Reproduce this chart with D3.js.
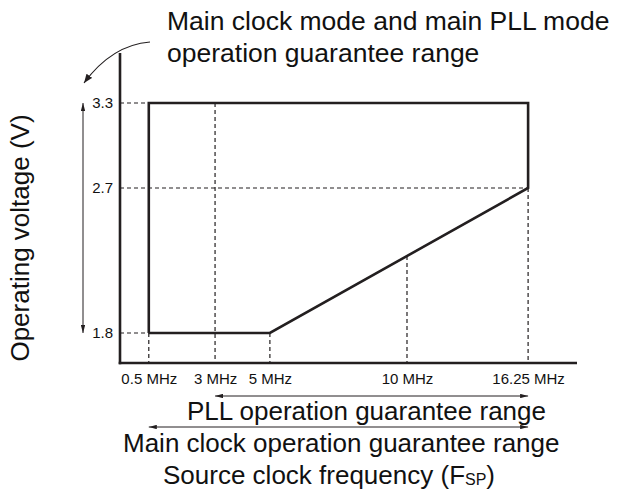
<!DOCTYPE html>
<html>
<head>
<meta charset="utf-8">
<script src="https://cdn.jsdelivr.net/npm/d3@7/dist/d3.min.js"></script>
<style>
  html, body { margin: 0; padding: 0; background: #fff; }
  text { font-family: "Liberation Sans", Arial, sans-serif; fill: #111; }
</style>
</head>
<body>
<svg id="chart" width="622" height="503"></svg>
<script>
// ---- data ----
const freqTicks = [0.5, 3, 5, 10, 16.25];
const freqLabels = ["0.5 MHz", "3 MHz", "5 MHz", "10 MHz", "16.25 MHz"];
const voltTicks = [1.8, 2.7, 3.3];
const voltLabels = ["1.8", "2.7", "3.3"];
// boundary of the operation guarantee region
const boundaryFreq = [0.5, 0.5, 16.25, 16.25, 5, 0.5];
const boundaryVolt = [1.8, 3.3, 3.3, 2.7, 1.8, 1.8];
// dashed guides
const hGuideVolt = [3.3, 2.7, 1.8];
const hGuideToFreq = [0.5, 16.25, 0.5];
const vGuideFreq = [0.5, 3, 5, 10, 16.25];
const vGuideFromVolt = [1.8, 3.3, 1.8, null, 2.7]; // null = on the slope
const pllRange = [3, 16.25];
const mainRange = [0.5, 16.25];
const titleLines = ["Main clock mode and main PLL mode", "operation guarantee range"];
const yTitle = "Operating voltage (V)";

// ---- layout ----
const svg = d3.select("#chart");
const ink = "#231f20";
const plot = { left: 120, right: 577, top: 53, bottom: 363 };
const W = plot.right - plot.left;
// non-uniform (piecewise) frequency and voltage scales, as in the original figure
const x = d3.scaleLinear()
  .domain(freqTicks)
  .range([0.063, 0.208, 0.328, 0.628, 0.893].map(f => plot.left + f * W));
const y = d3.scaleLinear()
  .domain(voltTicks)
  .range([333, 188, 103]);

// markers
const defs = svg.append("defs");
function marker(id, len, half) {
  defs.append("marker")
    .attr("id", id)
    .attr("markerUnits", "userSpaceOnUse")
    .attr("viewBox", `0 ${-half} ${len} ${2 * half}`)
    .attr("refX", len).attr("refY", 0)
    .attr("markerWidth", len).attr("markerHeight", 2 * half)
    .attr("orient", "auto-start-reverse")
    .append("path")
    .attr("d", `M0,${-half}L${len},0L0,${half}Z`)
    .attr("fill", ink);
}
marker("arr", 8, 2.2);
marker("arrBig", 9, 3.5);

// dashed guides
const dash = "4,3";
hGuideVolt.forEach((v, i) => {
  svg.append("line")
    .attr("x1", plot.left).attr("x2", x(hGuideToFreq[i]))
    .attr("y1", y(v)).attr("y2", y(v))
    .attr("stroke", ink).attr("stroke-width", 1.2).attr("stroke-dasharray", dash);
});
// slope segment in screen space (5 MHz,1.8V) -> (16.25 MHz,2.7V)
function slopeY(f) {
  const x0 = x(5), x1 = x(16.25), y0 = y(1.8), y1 = y(2.7);
  return y0 + (x(f) - x0) / (x1 - x0) * (y1 - y0);
}
vGuideFreq.forEach((f, i) => {
  const from = vGuideFromVolt[i] === null ? slopeY(f) : y(vGuideFromVolt[i]);
  svg.append("line")
    .attr("x1", x(f)).attr("x2", x(f))
    .attr("y1", from).attr("y2", plot.bottom)
    .attr("stroke", ink).attr("stroke-width", 1.2).attr("stroke-dasharray", dash);
});

// boundary
const pts = boundaryFreq.map((f, i) => [x(f), y(boundaryVolt[i])]);
svg.append("path")
  .attr("d", d3.line()(pts))
  .attr("fill", "none").attr("stroke", ink).attr("stroke-width", 2.6)
  .attr("stroke-linejoin", "miter");

// axes lines
svg.append("line").attr("x1", plot.left).attr("x2", plot.left)
  .attr("y1", plot.top).attr("y2", plot.bottom + 1.3)
  .attr("stroke", ink).attr("stroke-width", 2.6);
svg.append("line").attr("x1", plot.left - 1.3).attr("x2", plot.right)
  .attr("y1", plot.bottom).attr("y2", plot.bottom)
  .attr("stroke", ink).attr("stroke-width", 2.6);

// tick labels via d3 axes
const yAxis = svg.append("g").attr("transform", `translate(${plot.left},0)`)
  .call(d3.axisLeft(y).tickValues(voltTicks).tickSize(0).tickPadding(7)
    .tickFormat((d, i) => voltLabels[i]));
yAxis.select(".domain").remove();
yAxis.selectAll("text").style("font-size", "15px").style("font-family", "Liberation Sans, Arial, sans-serif").attr("fill", "#111");

const xAxis = svg.append("g").attr("transform", `translate(0,${plot.bottom})`)
  .call(d3.axisBottom(x).tickValues(freqTicks).tickSize(0).tickPadding(10)
    .tickFormat((d, i) => freqLabels[i]));
xAxis.select(".domain").remove();
xAxis.selectAll("text").style("font-size", "15px").style("font-family", "Liberation Sans, Arial, sans-serif").attr("fill", "#111");

// voltage range double arrow
svg.append("line")
  .attr("x1", 83).attr("x2", 83)
  .attr("y1", y(3.3)).attr("y2", y(1.8))
  .attr("stroke", ink).attr("stroke-width", 1)
  .attr("marker-start", "url(#arr)").attr("marker-end", "url(#arr)");

// curved arrow from title
svg.append("path")
  .attr("d", "M150,42 Q112,45 84,83")
  .attr("fill", "none").attr("stroke", ink).attr("stroke-width", 1.1)
  .attr("marker-end", "url(#arrBig)");

// range arrows
const rangeY = [396, 427];
[pllRange, mainRange].forEach((r, i) => {
  svg.append("line")
    .attr("x1", x(r[0])).attr("x2", x(r[1]))
    .attr("y1", rangeY[i]).attr("y2", rangeY[i])
    .attr("stroke", ink).attr("stroke-width", 1)
    .attr("marker-start", "url(#arr)").attr("marker-end", "url(#arr)");
});

// title
svg.append("text").attr("x", 167).attr("y", 30).style("font-size", "26.5px").text(titleLines[0]);
svg.append("text").attr("x", 167).attr("y", 62).style("font-size", "26.5px").text(titleLines[1]);

// bottom labels
svg.append("text").attr("x", 187).attr("y", 420).style("font-size", "26px").text("PLL operation guarantee range");
svg.append("text").attr("x", 123).attr("y", 452).style("font-size", "26px").text("Main clock operation guarantee range");
const src = svg.append("text").attr("x", 163).attr("y", 484).style("font-size", "26px");
src.append("tspan").text("Source clock frequency (F");
src.append("tspan").style("font-size", "16px").attr("dy", 1).text("SP");
src.append("tspan").attr("dy", -1).text(")");

// y axis title
svg.append("text")
  .attr("transform", "translate(29,238) rotate(-90)")
  .attr("text-anchor", "middle")
  .style("font-size", "26px")
  .text(yTitle);
</script>
</body>
</html>
